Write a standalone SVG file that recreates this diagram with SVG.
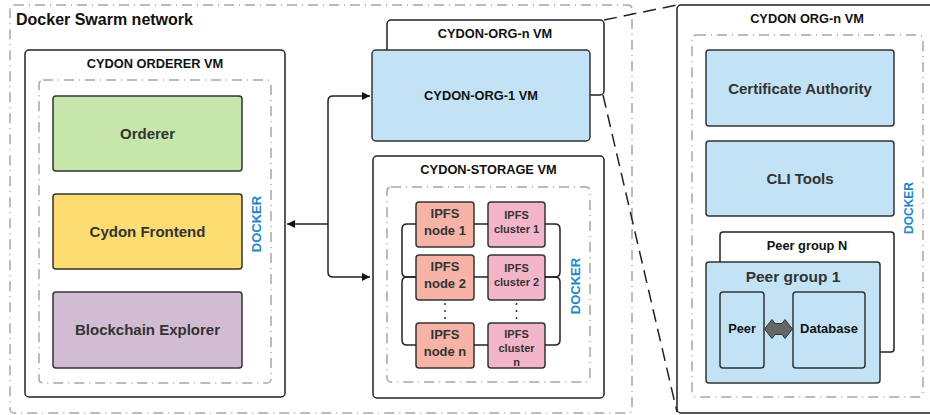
<svg xmlns="http://www.w3.org/2000/svg" width="930" height="415" viewBox="0 0 930 415">
<defs>
<style>
.vm{fill:#fff;stroke:#222;stroke-width:1.5}
.dock{fill:none;stroke:#a6a6a6;stroke-width:1.5;stroke-dasharray:10 5 1 5}
.box{stroke:#333;stroke-width:1.5}
.t{font-family:"Liberation Sans",Arial,sans-serif;font-weight:bold;text-anchor:middle}
.h{font-size:12.8px;fill:#111}
.lbl{font-size:15px;fill:#333}
.nd{font-size:13px;fill:#333}
.cl{font-size:11px;fill:#333}
.dk{font-size:13px;fill:#1d87c9}
.conn{fill:none;stroke:#222;stroke-width:1.5}
.zoom{fill:none;stroke:#222;stroke-width:1.5;stroke-dasharray:13 7}
.dots{fill:none;stroke:#333;stroke-width:1.5;stroke-dasharray:2 5}
.green{fill:#c7e6ac}.yellow{fill:#fddc72}.purple{fill:#d2bcd3}.blue{fill:#c2e3f5}.salmon{fill:#f7b4a6}.pink{fill:#f3b5c9}
</style>
<marker id="arr" viewBox="0 0 10 10" refX="10" refY="5" markerWidth="8" markerHeight="8" markerUnits="userSpaceOnUse" orient="auto-start-reverse">
<path d="M0,0 L10,5 L0,10 z" fill="#111"/>
</marker>
</defs>
<rect width="930" height="415" fill="#fff"/>

<g id="swarm">
<rect class="dock" x="10" y="5" width="622" height="408" rx="4"/>
<text x="16" y="25" font-family="Liberation Sans,Arial,sans-serif" font-weight="bold" font-size="16" fill="#111">Docker Swarm network</text>
</g>

<g id="orderer-vm">
<rect class="vm" x="25" y="50" width="260" height="347" rx="4"/>
<text class="t h" x="155" y="68">CYDON ORDERER VM</text>
<rect class="dock" x="39" y="80" width="232" height="303" rx="4"/>
<text class="t dk" transform="translate(261,224) rotate(-90)">DOCKER</text>
</g>
<g id="orderer"><rect class="box green" x="53" y="96" width="189" height="75" rx="3"/><text class="t lbl" x="147.5" y="138.5">Orderer</text></g>
<g id="frontend"><rect class="box yellow" x="53" y="194" width="189" height="75" rx="3"/><text class="t lbl" x="147.5" y="236.5">Cydon Frontend</text></g>
<g id="explorer"><rect class="box purple" x="53" y="292" width="189" height="76" rx="3"/><text class="t lbl" x="147.5" y="335">Blockchain Explorer</text></g>

<g id="org-n-vm">
<rect class="vm" x="387" y="20" width="217" height="75" rx="4"/>
<text class="t h" x="495" y="38">CYDON-ORG-n VM</text>
</g>
<g id="org-1-vm">
<rect class="box blue" x="372" y="50" width="218" height="91" rx="4"/>
<text class="t h" x="481" y="100">CYDON-ORG-1 VM</text>
</g>

<g id="storage-vm">
<rect class="vm" x="373" y="156" width="231" height="242" rx="4"/>
<text class="t h" x="488.5" y="174">CYDON-STORAGE VM</text>
<rect class="dock" x="387" y="187" width="203" height="195" rx="4"/>
<text class="t dk" transform="translate(580,286) rotate(-90)">DOCKER</text>
</g>
<g id="ipfs-node-1"><rect class="box salmon" x="416" y="202" width="58" height="45" rx="3"/><text class="t nd" x="445" y="218">IPFS</text><text class="t nd" x="445" y="235">node 1</text></g>
<g id="ipfs-node-2"><rect class="box salmon" x="416" y="255" width="58" height="45" rx="3"/><text class="t nd" x="445" y="271">IPFS</text><text class="t nd" x="445" y="288">node 2</text></g>
<g id="ipfs-node-n"><rect class="box salmon" x="416" y="323" width="58" height="45" rx="3"/><text class="t nd" x="445" y="339">IPFS</text><text class="t nd" x="445" y="356">node n</text></g>
<g id="ipfs-cluster-1"><rect class="box pink" x="488" y="202" width="57" height="45" rx="3"/><text class="t cl" x="516.5" y="219">IPFS</text><text class="t cl" x="516.5" y="233">cluster 1</text></g>
<g id="ipfs-cluster-2"><rect class="box pink" x="488" y="255" width="57" height="45" rx="3"/><text class="t cl" x="516.5" y="272">IPFS</text><text class="t cl" x="516.5" y="286">cluster 2</text></g>
<g id="ipfs-cluster-n"><rect class="box pink" x="488" y="323" width="57" height="45" rx="3"/><text class="t cl" x="516.5" y="338">IPFS</text><text class="t cl" x="516.5" y="352">cluster</text><text class="t cl" x="516.5" y="366">n</text></g>

<g id="org-n-detail">
<rect class="vm" x="677" y="5" width="270" height="408" rx="4"/>
<text class="t h" x="807" y="23">CYDON ORG-n VM</text>
<rect class="dock" x="692" y="35" width="231" height="362" rx="4"/>
<text class="t dk" style="font-size:12px" transform="translate(912.5,208) rotate(-90)">DOCKER</text>
</g>
<g id="ca"><rect class="box blue" x="706" y="50" width="188" height="76" rx="3"/><text class="t lbl" x="800" y="93.5">Certificate Authority</text></g>
<g id="cli"><rect class="box blue" x="706" y="141" width="188" height="75" rx="3"/><text class="t lbl" x="800" y="184">CLI Tools</text></g>
<g id="peer-group-n"><rect class="vm" x="720" y="232" width="174" height="120" rx="3"/><text class="t h" x="807" y="250">Peer group N</text></g>
<g id="peer-group-1"><rect class="box blue" x="706" y="262" width="174" height="121" rx="3"/><text class="t" x="793" y="282" style="font-size:15.5px;fill:#333">Peer group 1</text></g>
<g id="peer"><rect class="box blue" x="720" y="292" width="44" height="76" rx="3"/><text class="t h" x="742" y="333" fill="#222">Peer</text></g>
<g id="database"><rect class="box blue" x="793" y="292" width="72" height="76" rx="3"/><text class="t h" x="829" y="333" style="font-size:13px">Database</text></g>

<g id="connectors">
<path class="conn" d="M370,96 H333 Q328,96 328,101 V272 Q328,277 333,277 H370" marker-start="url(#arr)" marker-end="url(#arr)"/>
<path class="conn" d="M328,224 H287" marker-end="url(#arr)"/>
<path class="conn" d="M416,224 H407 Q402,224 402,229 V272 Q402,277 407,277 H416"/>
<path class="conn" d="M416,277 H407 Q402,277 402,282 V340 Q402,345 407,345 H416"/>
<path class="conn" d="M545,224 H555 Q560,224 560,229 V272 Q560,277 555,277 H545"/>
<path class="conn" d="M545,277 H555 Q560,277 560,282 V340 Q560,345 555,345 H545"/>
<path class="conn" d="M474,224 H488 M474,277 H488 M474,345 H488"/>
<path class="dots" d="M445,303 V321 M516.5,303 V321"/>
<path class="zoom" d="M604,20 L677,5"/>
<path class="zoom" d="M603,95 L677,412"/>
<path d="M764.5,329 L772,319.5 L775,323.5 L782,323.5 L785,319.5 L792.5,329 L785,338.5 L782,334.5 L775,334.5 L772,338.5 Z" fill="#666" stroke="#333" stroke-width="1" stroke-linejoin="round"/>
</g>
</svg>
